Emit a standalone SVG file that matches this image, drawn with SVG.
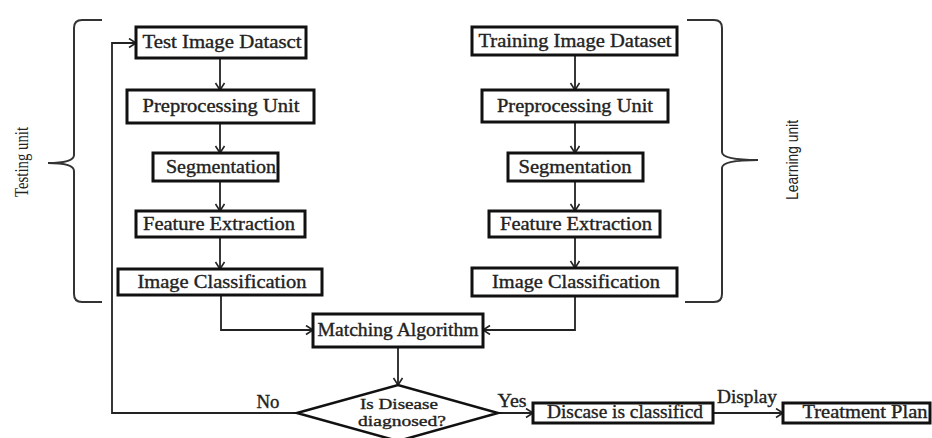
<svg xmlns="http://www.w3.org/2000/svg" width="932" height="438" viewBox="0 0 932 438">
  <style>
    .box { fill: #fff; stroke: #111; stroke-width: 3; }
    .dec { fill: #fff; stroke: #111; stroke-width: 2.5; }
    .lbl { font-family: "Liberation Serif", "Times New Roman", serif; font-size: 18px; fill: #222; stroke: #222; stroke-width: 0.35; text-anchor: middle; }
    .small { font-size: 15px; }
    .side { font-family: "Liberation Serif", "Times New Roman", serif; font-size: 18px; fill: #222; text-anchor: middle; }
    .sans { font-family: "Liberation Sans", Arial, sans-serif; font-size: 16px; fill: #222; text-anchor: middle; }
    .wire { fill: none; stroke: #222; stroke-width: 1.8; }
    .brace { fill: none; stroke: #333; stroke-width: 2; }
  </style>
  <defs>
    <marker id="arrow" markerUnits="userSpaceOnUse" markerWidth="10" markerHeight="12" refX="8" refY="5" orient="auto">
      <path d="M1,0.5 L8,5 L1,9.5" fill="none" stroke="#222" stroke-width="1.6"/>
    </marker>
  </defs>
  <rect width="932" height="438" fill="#fff"/>

  <!-- braces and side labels -->
  <g id="testing-unit">
    <path class="brace" d="M102,20 H82 Q74,20 74,28 V155 Q74,163 48,163 Q74,163 74,171 V294 Q74,302 82,302 H102"/>
    <text class="side" transform="translate(28,162) rotate(-90)" textLength="70" lengthAdjust="spacingAndGlyphs">Testing unit</text>
  </g>
  <g id="learning-unit">
    <path class="brace" d="M687,20 H714 Q722,20 722,28 V152 Q722,160 758,160 Q722,160 722,168 V294 Q722,302 714,302 H685"/>
    <text class="sans" transform="translate(798,160) rotate(-90)" textLength="80" lengthAdjust="spacingAndGlyphs">Learning unit</text>
  </g>

  <!-- connectors -->
  <g id="connectors">
    <line class="wire" x1="220" y1="58" x2="220" y2="90" marker-end="url(#arrow)"/>
    <line class="wire" x1="220" y1="123" x2="220" y2="153" marker-end="url(#arrow)"/>
    <line class="wire" x1="220" y1="181" x2="220" y2="211" marker-end="url(#arrow)"/>
    <line class="wire" x1="220" y1="237" x2="220" y2="269" marker-end="url(#arrow)"/>
    <line class="wire" x1="575" y1="55" x2="575" y2="90" marker-end="url(#arrow)"/>
    <line class="wire" x1="575" y1="122" x2="575" y2="153" marker-end="url(#arrow)"/>
    <line class="wire" x1="575" y1="181" x2="575" y2="211" marker-end="url(#arrow)"/>
    <line class="wire" x1="575" y1="237" x2="575" y2="268" marker-end="url(#arrow)"/>
    <polyline class="wire" points="221,295 221,330 313,330" marker-end="url(#arrow)"/>
    <polyline class="wire" points="575,296 575,330 483,330" marker-end="url(#arrow)"/>
    <line class="wire" x1="398" y1="347" x2="398" y2="385" marker-end="url(#arrow)"/>
    <polyline class="wire" points="297,413 112,413 112,43 136,43" marker-end="url(#arrow)"/>
    <line class="wire" x1="498" y1="413" x2="533" y2="413" marker-end="url(#arrow)"/>
    <line class="wire" x1="713" y1="413" x2="783" y2="413" marker-end="url(#arrow)"/>
    <text class="lbl" x="268" y="408" textLength="23" lengthAdjust="spacingAndGlyphs">No</text>
    <text class="lbl" x="512" y="407" textLength="29" lengthAdjust="spacingAndGlyphs">Yes</text>
    <text class="lbl" x="747" y="403" textLength="60" lengthAdjust="spacingAndGlyphs">Display</text>
  </g>

  <!-- testing column -->
  <g id="test-dataset">
    <rect class="box" x="136" y="27" width="170" height="31"/>
    <text class="lbl" x="222" y="48" textLength="159" lengthAdjust="spacingAndGlyphs">Test Image Datasct</text>
  </g>
  <g id="test-preprocessing">
    <rect class="box" x="127" y="90" width="187" height="33"/>
    <text class="lbl" x="221" y="112" textLength="157" lengthAdjust="spacingAndGlyphs">Preprocessing Unit</text>
  </g>
  <g id="test-segmentation">
    <rect class="box" x="153" y="153" width="125" height="28"/>
    <text class="lbl" x="221" y="173" textLength="110" lengthAdjust="spacingAndGlyphs">Segmentation</text>
  </g>
  <g id="test-features">
    <rect class="box" x="136" y="211" width="169" height="26"/>
    <text class="lbl" x="219" y="230" textLength="152" lengthAdjust="spacingAndGlyphs">Feature Extraction</text>
  </g>
  <g id="test-classification">
    <rect class="box" x="118" y="269" width="204" height="26"/>
    <text class="lbl" x="222" y="288" textLength="169" lengthAdjust="spacingAndGlyphs">Image Classification</text>
  </g>

  <!-- learning column -->
  <g id="train-dataset">
    <rect class="box" x="472" y="27" width="205" height="28"/>
    <text class="lbl" x="575" y="47" textLength="193" lengthAdjust="spacingAndGlyphs">Training Image Dataset</text>
  </g>
  <g id="train-preprocessing">
    <rect class="box" x="482" y="90" width="186" height="32"/>
    <text class="lbl" x="575" y="112" textLength="156" lengthAdjust="spacingAndGlyphs">Preprocessing Unit</text>
  </g>
  <g id="train-segmentation">
    <rect class="box" x="508" y="153" width="135" height="28"/>
    <text class="lbl" x="575" y="173" textLength="113" lengthAdjust="spacingAndGlyphs">Segmentation</text>
  </g>
  <g id="train-features">
    <rect class="box" x="489" y="211" width="171" height="26"/>
    <text class="lbl" x="576" y="230" textLength="152" lengthAdjust="spacingAndGlyphs">Feature Extraction</text>
  </g>
  <g id="train-classification">
    <rect class="box" x="472" y="268" width="205" height="28"/>
    <text class="lbl" x="576" y="288" textLength="168" lengthAdjust="spacingAndGlyphs">Image Classification</text>
  </g>

  <!-- decision flow -->
  <g id="matching">
    <rect class="box" x="313" y="314" width="170" height="33"/>
    <text class="lbl" x="398" y="336" textLength="161" lengthAdjust="spacingAndGlyphs">Matching Algorithm</text>
  </g>
  <g id="diagnosed">
    <polygon class="dec" points="297,413 398,385 498,413 398,441"/>
    <text class="lbl small" x="399" y="409" textLength="78" lengthAdjust="spacingAndGlyphs">Is Disease</text>
    <text class="lbl small" x="402" y="426" textLength="88" lengthAdjust="spacingAndGlyphs">diagnosed?</text>
  </g>
  <g id="classified">
    <rect class="box" x="533" y="403" width="180" height="20"/>
    <text class="lbl" x="625" y="418" textLength="156" lengthAdjust="spacingAndGlyphs">Discase is classificd</text>
  </g>
  <g id="treatment">
    <rect class="box" x="783" y="403" width="147" height="20"/>
    <text class="lbl" x="865" y="418" textLength="125" lengthAdjust="spacingAndGlyphs">Treatment Plan</text>
  </g>
</svg>
